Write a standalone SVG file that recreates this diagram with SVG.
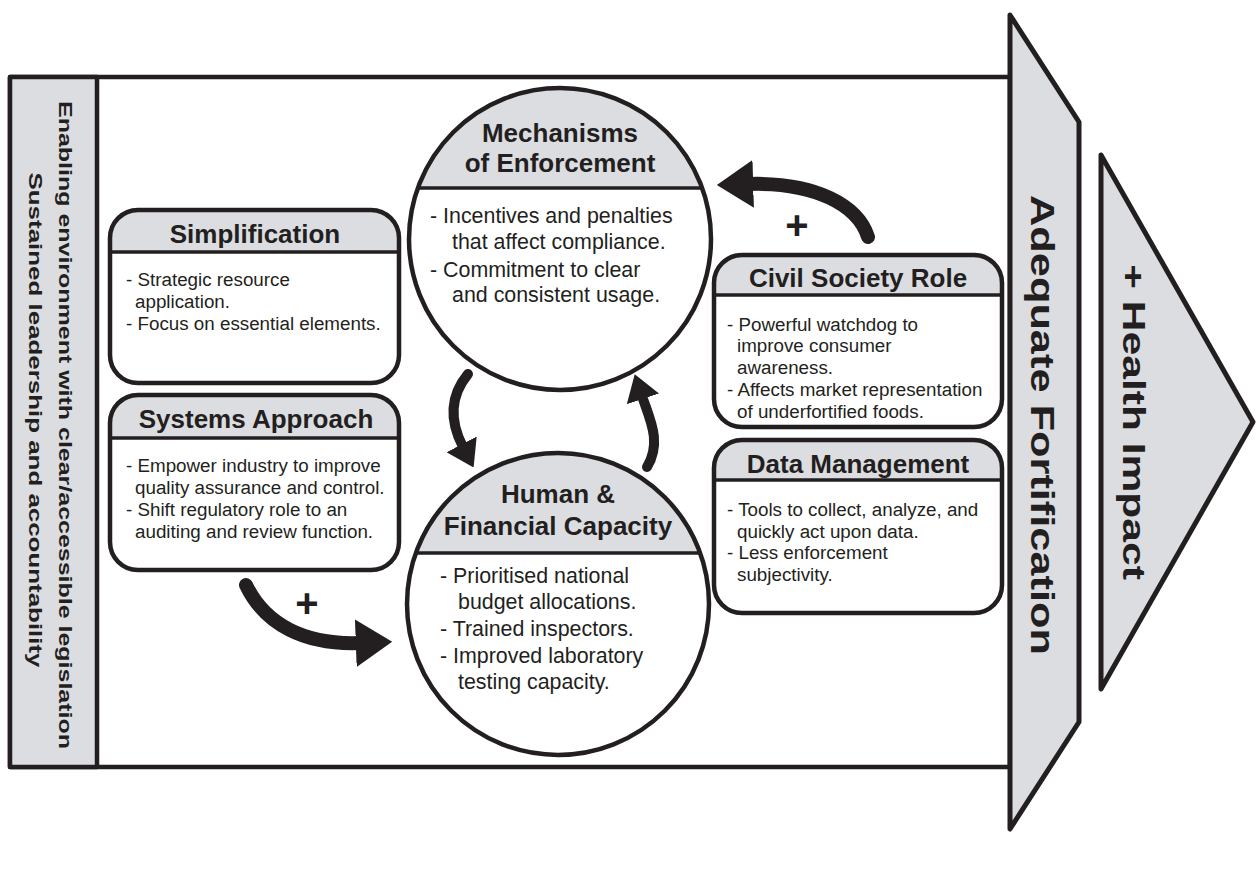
<svg xmlns="http://www.w3.org/2000/svg" width="1256" height="877" viewBox="0 0 1256 877">
<defs>
<style>
.ln{stroke:#231f20;stroke-width:4.5;fill:none;stroke-linejoin:round}
.gray{fill:#dcdde0}
.hd{font-family:"Liberation Sans",Arial,sans-serif;font-weight:bold;font-size:26px;fill:#231f20;text-anchor:middle}
.bd{font-family:"Liberation Sans",Arial,sans-serif;font-size:18.8px;fill:#231f20}
.cb{font-family:"Liberation Sans",Arial,sans-serif;font-size:21.4px;fill:#231f20}
.rot{font-family:"Liberation Sans",Arial,sans-serif;font-weight:bold;fill:#231f20;text-anchor:middle}
.arr{stroke:#231f20;fill:none;stroke-linecap:round;marker-end:url(#ah)}
.plus{font-family:"Liberation Sans",Arial,sans-serif;font-weight:bold;font-size:40px;fill:#231f20;text-anchor:middle}
</style>
<marker id="ah" viewBox="0 0 26 34" refX="3" refY="17" markerWidth="2.6" markerHeight="3.4" orient="auto" markerUnits="strokeWidth">
<path d="M0,0 L26,17 L0,34 Z" fill="#231f20"/>
</marker>
</defs>
<rect width="1256" height="877" fill="#ffffff"/>

<g id="frame">
<rect x="10" y="77" width="1000" height="690" class="ln" style="fill:#ffffff"/>
<rect x="10" y="77" width="87" height="690" class="gray"/>
<rect x="10" y="77" width="87" height="690" class="ln"/>
<text class="rot" font-size="18.5" transform="translate(59,425) rotate(90) scale(1.35,1)">Enabling environment with clear/accessible legislation</text>
<text class="rot" font-size="18.5" transform="translate(29,420) rotate(90) scale(1.40,1)">Sustained leadership and accountability</text>
</g>

<g id="adequate-fortification">
<path d="M1010,15 L1079,122 L1079,722 L1010,829 Z" class="gray"/>
<path d="M1010,15 L1079,122 L1079,722 L1010,829 Z" class="ln" style="stroke-width:5"/>
<text class="rot" font-size="33" transform="translate(1031,425) rotate(90) scale(1.314,1)">Adequate Fortification</text>
</g>

<g id="health-impact">
<path d="M1101,155 L1253,422 L1101,689 Z" class="gray"/>
<path d="M1101,155 L1253,422 L1101,689 Z" class="ln" style="stroke-width:5"/>
<text class="rot" font-size="32" transform="translate(1123,422) rotate(90) scale(1.33,1)">+ Health Impact</text>
</g>

<g id="simplification">
<path d="M110,252 V238 A28,28 0 0 1 138,210 H371 A28,28 0 0 1 399,238 V252 Z" class="gray"/>
<rect x="110" y="210" width="289" height="173" rx="28" class="ln"/>
<line x1="110" y1="252" x2="399" y2="252" class="ln" style="stroke-width:3.5"/>
<text x="255" y="243" class="hd">Simplification</text>
<text class="bd"><tspan x="126" y="286">- Strategic resource</tspan><tspan x="135" y="308">application.</tspan><tspan x="126" y="330">- Focus on essential elements.</tspan></text>
</g>

<g id="systems-approach">
<path d="M110,438 V423 A28,28 0 0 1 138,395 H371 A28,28 0 0 1 399,423 V438 Z" class="gray"/>
<rect x="110" y="395" width="289" height="175" rx="28" class="ln"/>
<line x1="110" y1="438" x2="399" y2="438" class="ln" style="stroke-width:3.5"/>
<text x="256" y="428" class="hd">Systems Approach</text>
<text class="bd"><tspan x="126" y="472">- Empower industry to improve</tspan><tspan x="135" y="494">quality assurance and control.</tspan><tspan x="126" y="516">- Shift regulatory role to an</tspan><tspan x="135" y="538">auditing and review function.</tspan></text>
</g>

<g id="civil-society-role">
<path d="M714,295 V283 A28,28 0 0 1 742,255 H974 A28,28 0 0 1 1002,283 V295 Z" class="gray"/>
<rect x="714" y="255" width="288" height="172" rx="28" class="ln"/>
<line x1="714" y1="295" x2="1002" y2="295" class="ln" style="stroke-width:3.5"/>
<text x="858" y="287" class="hd">Civil Society Role</text>
<text class="bd"><tspan x="727" y="331">-  Powerful watchdog to</tspan><tspan x="737" y="352">improve consumer</tspan><tspan x="737" y="374">awareness.</tspan><tspan x="727" y="396">-  Affects market representation</tspan><tspan x="737" y="418">of underfortified foods.</tspan></text>
</g>

<g id="data-management">
<path d="M714,480 V468 A28,28 0 0 1 742,440 H974 A28,28 0 0 1 1002,468 V480 Z" class="gray"/>
<rect x="714" y="440" width="288" height="173" rx="28" class="ln"/>
<line x1="714" y1="480" x2="1002" y2="480" class="ln" style="stroke-width:3.5"/>
<text x="858" y="473" class="hd">Data Management</text>
<text class="bd"><tspan x="727" y="516">-  Tools to collect, analyze, and</tspan><tspan x="737" y="538">quickly act upon data.</tspan><tspan x="727" y="559">-  Less enforcement</tspan><tspan x="737" y="581">subjectivity.</tspan></text>
</g>

<g id="mechanisms-of-enforcement">
<circle cx="560" cy="239" r="151" fill="#ffffff"/>
<path d="M417.9,188 A151,151 0 0 1 702.1,188 Z" class="gray"/>
<line x1="417.9" y1="188" x2="702.1" y2="188" class="ln" style="stroke-width:3.5"/>
<circle cx="560" cy="239" r="151" class="ln"/>
<text x="560" y="142" class="hd">Mechanisms</text>
<text x="560" y="172" class="hd">of Enforcement</text>
<text class="cb"><tspan x="430" y="223">- Incentives and penalties</tspan><tspan x="452" y="249">that affect compliance.</tspan><tspan x="430" y="277">- Commitment to clear</tspan><tspan x="452" y="302">and consistent usage.</tspan></text>
</g>

<g id="human-financial-capacity">
<circle cx="558" cy="604" r="151" fill="#ffffff"/>
<path d="M415.9,553 A151,151 0 0 1 700.1,553 Z" class="gray"/>
<line x1="415.9" y1="553" x2="700.1" y2="553" class="ln" style="stroke-width:3.5"/>
<circle cx="558" cy="604" r="151" class="ln"/>
<text x="558" y="503" class="hd">Human &amp;</text>
<text x="558" y="535" class="hd">Financial Capacity</text>
<text class="cb"><tspan x="440" y="583">- Prioritised national</tspan><tspan x="458" y="609">budget allocations.</tspan><tspan x="440" y="636">- Trained inspectors.</tspan><tspan x="440" y="663">- Improved laboratory</tspan><tspan x="458" y="689">testing capacity.</tspan></text>
</g>

<g id="connectors">
<path d="M868,237 C858,205 815,182 749,184" class="arr" stroke-width="14"/>
<path d="M246,585 C265,625 305,645 360,643" class="arr" stroke-width="14"/>
<path d="M468,374 C450,396 449,420 463,447" class="arr" stroke-width="10"/>
<path d="M647,467 C662,442 650,420 642,396" class="arr" stroke-width="10"/>
<text x="797" y="239" class="plus">+</text>
<text x="307" y="617" class="plus">+</text>
</g>
</svg>
